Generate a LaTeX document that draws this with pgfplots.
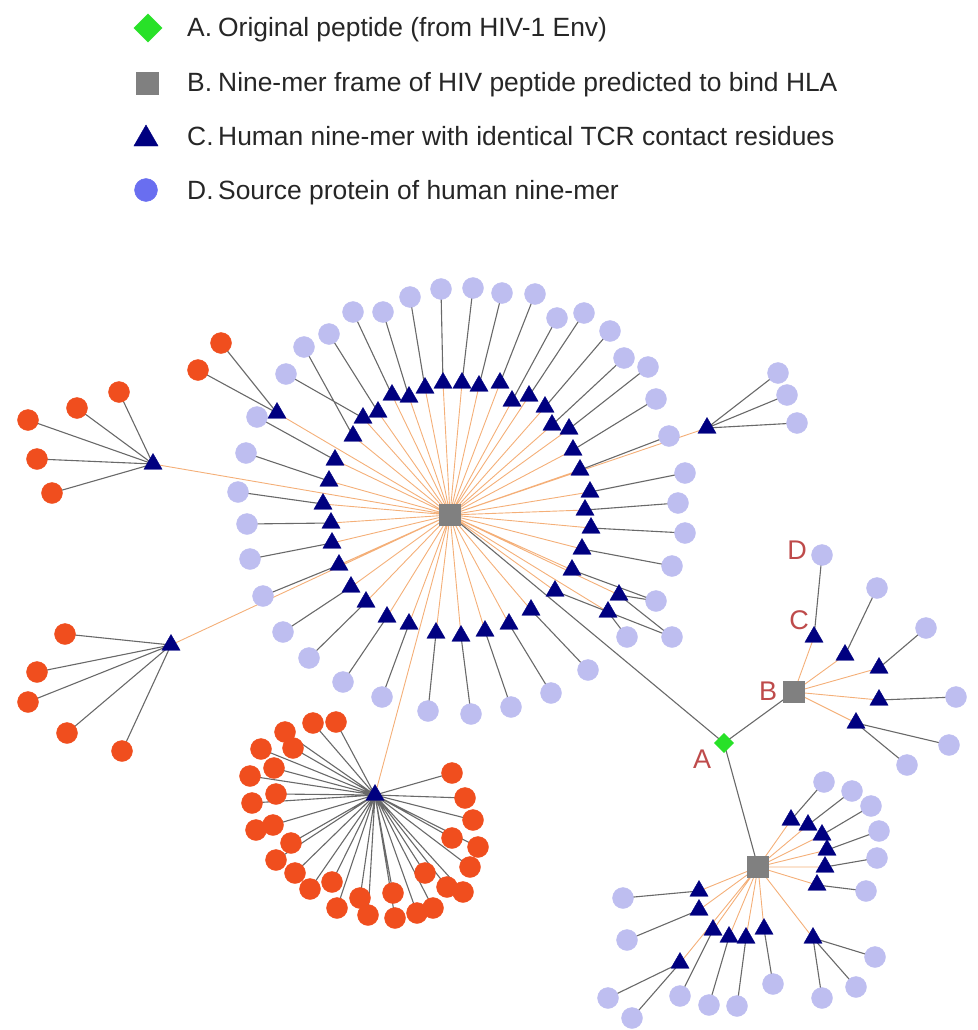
\documentclass[border=0pt]{standalone}
\usepackage{pgfplots}
\pgfplotsset{compat=1.18}
\usepackage{fontspec}
\setmainfont{Liberation Sans}
\definecolor{edgegray}{RGB}{105,105,105}
\definecolor{edgeorange}{RGB}{244,175,120}
\definecolor{leafpurple}{RGB}{190,190,240}
\definecolor{leafred}{RGB}{240,78,30}
\definecolor{navy}{RGB}{0,0,128}
\definecolor{hubgray}{RGB}{128,128,128}
\definecolor{peptgreen}{RGB}{40,225,40}
\definecolor{legpurple}{RGB}{105,110,240}
\definecolor{labred}{RGB}{190,75,75}
\begin{document}
\begin{tikzpicture}
\begin{axis}[scale only axis, width=977pt, height=1030pt,
  xmin=0, xmax=977, ymin=0, ymax=1030, y dir=reverse,
  hide axis, clip=false, unbounded coords=jump]

% ---------- orange edges (HLA frame -> human nine-mers) ----------
\addplot[edgeorange, line width=0.9pt, mark=none] coordinates {
(450,515)(366,602)(450,515)(351,587)(450,515)(339,565)(450,515)(332,543)
(450,515)(331,523)(450,515)(323,504)(450,515)(329,481)(450,515)(335,460)
(450,515)(353,436)(450,515)(363,418)(450,515)(378,412)(450,515)(392,395)
(450,515)(409,397)(450,515)(425,388)(450,515)(443,383)(450,515)(462,383)
(450,515)(479,386)(450,515)(500,383)(450,515)(512,401)(450,515)(529,396)
(450,515)(545,407)(450,515)(552,425)(450,515)(569,429)(450,515)(573,450)
(450,515)(580,470)(450,515)(590,492)(450,515)(585,510)(450,515)(591,528)
(450,515)(582,549)(450,515)(572,570)(450,515)(555,591)(450,515)(531,610)
(450,515)(509,624)(450,515)(485,631)(450,515)(461,636)(450,515)(436,633)
(450,515)(409,624)(450,515)(387,617)(450,515)(619,595)(450,515)(608,612)
(450,515)(277,413)(450,515)(153,464)(450,515)(171,645)(450,515)(375,795)
(450,515)(707,428)
(nan,nan)
(794,692)(814,637)(794,692)(845,655)(794,692)(879,668)(794,692)(879,700)(794,692)(856,723)
(nan,nan)
(758,867)(791,820)(758,867)(808,825)(758,867)(822,835)(758,867)(827,850)
(758,867)(825,867)(758,867)(817,885)(758,867)(699,891)(758,867)(699,910)
(758,867)(713,930)(758,867)(729,937)(758,867)(746,938)(758,867)(764,929)
(758,867)(813,938)(758,867)(680,963)
};

% ---------- gray edges ----------
\addplot[edgegray, line width=1.1pt, mark=none] coordinates {
(366,602)(309,658) (nan,nan) (351,587)(283,632) (nan,nan) (339,565)(263,596) (nan,nan)
(332,543)(250,559) (nan,nan) (331,523)(247,524) (nan,nan) (323,504)(238,492) (nan,nan)
(329,481)(246,453) (nan,nan) (335,460)(257,417) (nan,nan) (353,436)(304,347) (nan,nan)
(363,418)(286,374) (nan,nan) (378,412)(329,334) (nan,nan) (392,395)(353,312) (nan,nan)
(409,397)(383,312) (nan,nan) (425,388)(410,297) (nan,nan) (443,383)(441,289) (nan,nan)
(462,383)(473,288) (nan,nan) (479,386)(502,293) (nan,nan) (500,383)(535,294) (nan,nan)
(512,401)(557,318) (nan,nan) (529,396)(584,313) (nan,nan) (545,407)(610,331) (nan,nan)
(552,425)(624,358) (nan,nan) (569,429)(648,367) (nan,nan) (573,450)(656,399) (nan,nan)
(580,470)(669,436) (nan,nan) (590,492)(685,473) (nan,nan) (585,510)(678,503) (nan,nan)
(591,528)(685,533) (nan,nan) (582,549)(672,566) (nan,nan) (572,570)(656,601) (nan,nan)
(555,591)(672,637) (nan,nan) (531,610)(588,670) (nan,nan) (509,624)(551,693) (nan,nan)
(485,631)(511,707) (nan,nan) (461,636)(471,714) (nan,nan) (436,633)(428,711) (nan,nan)
(409,624)(382,697) (nan,nan) (387,617)(343,682) (nan,nan) (656,601)(619,595)(672,637) (nan,nan)
(608,612)(627,637) (nan,nan)
(221,343)(277,413)(198,370) (nan,nan)
(153,464)(28,420)(153,464)(77,408)(153,464)(119,392)(153,464)(37,459)(153,464)(52,493) (nan,nan)
(171,645)(65,634)(171,645)(37,672)(171,645)(28,702)(171,645)(67,733)(171,645)(122,751) (nan,nan)
(707,428)(778,373)(707,428)(787,395)(707,428)(797,423) (nan,nan)
(375,795)(313,723)(375,795)(336,722)(375,795)(285,732)(375,795)(293,748)
(375,795)(261,749)(375,795)(274,768)(375,795)(250,776)(375,795)(276,794)
(375,795)(252,803)(375,795)(273,825)(375,795)(256,830)(375,795)(291,843)
(375,795)(276,860)(375,795)(295,873)(375,795)(310,889)(375,795)(332,882)
(375,795)(337,908)(375,795)(360,898)(375,795)(368,915)(375,795)(393,893)
(375,795)(395,918)(375,795)(417,913)(375,795)(433,908)(375,795)(425,873)
(375,795)(447,887)(375,795)(463,892)(375,795)(452,838)(375,795)(470,867)
(375,795)(478,847)(375,795)(473,820)(375,795)(465,798)(375,795)(452,773) (nan,nan)
(450,515)(724,743)(794,692) (nan,nan) (724,743)(758,867) (nan,nan)
(814,637)(822,555) (nan,nan) (845,655)(877,588) (nan,nan) (879,668)(926,628) (nan,nan)
(879,700)(956,697) (nan,nan) (949,745)(856,723)(907,765) (nan,nan)
(791,820)(824,782) (nan,nan) (808,825)(852,791) (nan,nan) (822,835)(871,806) (nan,nan)
(827,850)(879,831) (nan,nan) (825,867)(877,858) (nan,nan) (817,885)(866,891) (nan,nan)
(875,957)(813,938)(856,987)(813,938)(822,998) (nan,nan)
(764,929)(773,984) (nan,nan) (746,938)(737,1006) (nan,nan) (729,937)(709,1005) (nan,nan)
(713,930)(680,996) (nan,nan) (699,891)(623,898) (nan,nan) (699,910)(627,940) (nan,nan)
(608,998)(680,963)(632,1018)
};

% ---------- D: source proteins (light purple) ----------
\addplot[only marks, mark=*, color=leafpurple, mark size=10.5] coordinates {
(343,682)(309,658)(283,632)(263,596)(250,559)(247,524)(238,492)(246,453)
(257,417)(286,374)(304,347)(329,334)(353,312)(383,312)(410,297)(441,289)
(473,288)(502,293)(535,294)(557,318)(584,313)(610,331)(624,358)(648,367)
(656,399)(669,436)(685,473)(678,503)(685,533)(672,566)(656,601)(672,637)
(627,637)(588,670)(551,693)(511,707)(471,714)(428,711)(382,697)
(778,373)(787,395)(797,423)
(822,555)(877,588)(926,628)(956,697)(949,745)(907,765)
(824,782)(852,791)(871,806)(879,831)(877,858)(866,891)(875,957)(856,987)
(822,998)(773,984)(737,1006)(709,1005)(680,996)(623,898)(627,940)(608,998)(632,1018)
};

% ---------- source proteins (red) ----------
\addplot[only marks, mark=*, color=leafred, mark size=10.5] coordinates {
(221,343)(198,370)
(28,420)(77,408)(119,392)(37,459)(52,493)
(65,634)(37,672)(28,702)(67,733)(122,751)
(313,723)(336,722)(285,732)(293,748)(261,749)(274,768)(250,776)(276,794)
(252,803)(273,825)(256,830)(291,843)(276,860)(295,873)(310,889)(332,882)
(337,908)(360,898)(368,915)(393,893)(395,918)(417,913)(433,908)(425,873)
(447,887)(463,892)(452,838)(470,867)(478,847)(473,820)(465,798)(452,773)
};

% ---------- C: human nine-mers (navy triangles) ----------
\addplot[only marks, mark=triangle*, color=navy, mark size=10.5] coordinates {
(366,602)(351,587)(339,565)(332,543)(331,523)(323,504)(329,481)(335,460)
(353,436)(363,418)(378,412)(392,395)(409,397)(425,388)(443,383)(462,383)
(479,386)(500,383)(512,401)(529,396)(545,407)(552,425)(569,429)(573,450)
(580,470)(590,492)(585,510)(591,528)(582,549)(572,570)(555,591)(531,610)
(509,624)(485,631)(461,636)(436,633)(409,624)(387,617)(619,595)(608,612)
(277,413)(153,464)(171,645)(375,795)(707,428)
(814,637)(845,655)(879,668)(879,700)(856,723)
(791,820)(808,825)(822,835)(827,850)(825,867)(817,885)(699,891)(699,910)
(713,930)(729,937)(746,938)(764,929)(813,938)(680,963)
};

% ---------- B: nine-mer frames (gray squares) ----------
\addplot[only marks, mark=square*, color=hubgray, mark size=10.5] coordinates {
(450,515)(794,692)(758,867)
};

% ---------- A: original peptide (green diamond) ----------
\addplot[only marks, mark=square*, color=peptgreen, mark size=6.8, mark options={rotate=45}] coordinates {
(724,743)
};

% ---------- key ----------
\addplot[only marks, mark=square*, color=peptgreen, mark size=10, mark options={rotate=45}] coordinates {(148,28)};
\addplot[only marks, mark=square*, color=hubgray, mark size=11] coordinates {(147,83)};
\addplot[only marks, mark=triangle*, color=navy, mark size=14] coordinates {(146,139)};
\addplot[only marks, mark=*, color=legpurple, mark size=11.5] coordinates {(146,190)};

\begin{scope}[every node/.style={anchor=base west, inner sep=0pt,
   font=\fontsize{26.4}{30}\selectfont, text=black!85}]
\node at (axis cs:187,37) {\makebox[31pt][l]{A.}Original peptide (from HIV-1 Env)};
\node at (axis cs:187,92) {\makebox[31pt][l]{B.}Nine-mer frame of HIV peptide predicted to bind HLA};
\node at (axis cs:187,146) {\makebox[31pt][l]{C.}Human nine-mer with identical TCR contact residues};
\node at (axis cs:187,199) {\makebox[31pt][l]{D.}Source protein of human nine-mer};
\end{scope}

\begin{scope}[every node/.style={anchor=center, inner sep=0pt,
   font=\fontsize{27}{30}\selectfont, text=labred}]
\node at (axis cs:797,550) {D};
\node at (axis cs:799,620) {C};
\node at (axis cs:768,691) {B};
\node at (axis cs:702,759) {A};
\end{scope}
\end{axis}
\path (current axis.south west) rectangle (current axis.north east);
\end{tikzpicture}
\end{document}
